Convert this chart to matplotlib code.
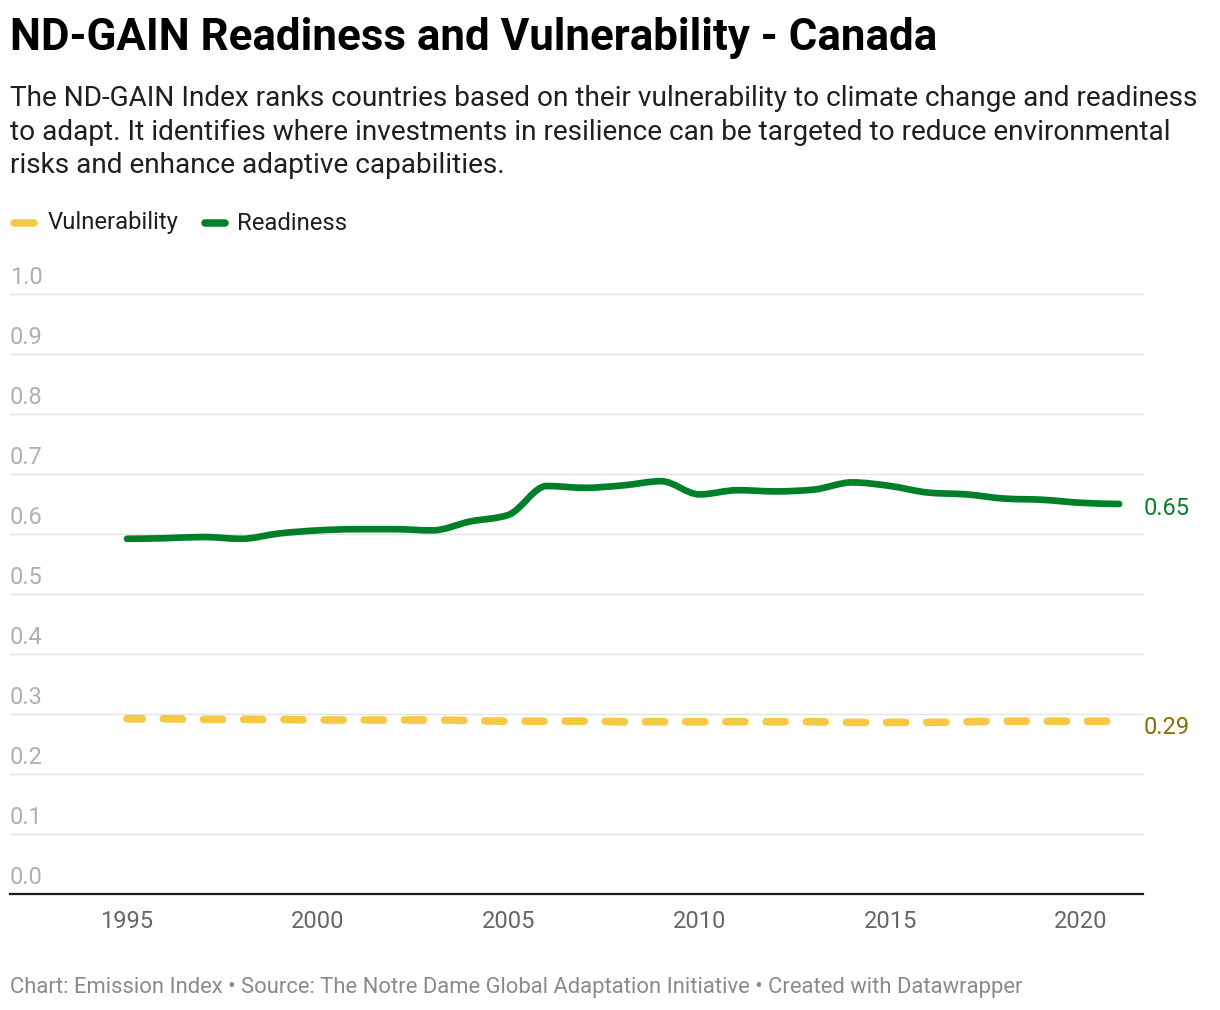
import numpy as np
import matplotlib
matplotlib.use("Agg")
import matplotlib.pyplot as plt
from matplotlib.path import Path
from matplotlib.patches import PathPatch
from matplotlib.lines import Line2D
import matplotlib.transforms as mtransforms

# ---------------- data ----------------
years = list(range(1995, 2022))
readiness = [0.592, 0.593, 0.595, 0.592, 0.601, 0.606, 0.608, 0.608, 0.606, 0.621,
             0.632, 0.680, 0.677, 0.681, 0.688, 0.666, 0.673, 0.671, 0.674, 0.686,
             0.680, 0.669, 0.666, 0.659, 0.657, 0.652, 0.650]
vulnerability = [0.292, 0.292, 0.291, 0.291, 0.291, 0.290, 0.290, 0.290, 0.290, 0.289,
                 0.288, 0.288, 0.288, 0.287, 0.287, 0.287, 0.287, 0.287, 0.287, 0.286,
                 0.286, 0.286, 0.287, 0.288, 0.288, 0.288, 0.288]
y_ticks = [0.0, 0.1, 0.2, 0.3, 0.4, 0.5, 0.6, 0.7, 0.8, 0.9, 1.0]
x_ticks = [1995, 2000, 2005, 2010, 2015, 2020]
series_names = ["Vulnerability", "Readiness"]
end_labels = ["0.29", "0.65"]

title = "ND-GAIN Readiness and Vulnerability - Canada"
subtitle = ("The ND-GAIN Index ranks countries based on their vulnerability to climate change and readiness\n"
            "to adapt. It identifies where investments in resilience can be targeted to reduce environmental\n"
            "risks and enhance adaptive capabilities.")
footer = "Chart: Emission Index \u2022 Source: The Notre Dame Global Adaptation Initiative \u2022 Created with Datawrapper"

GREEN = "#007f2a"
YELLOW = "#f7c843"
GREEN_TXT = "#0a7f2e"
GOLD_TXT = "#8c6d00"

plt.rcParams['font.family'] = ['Roboto', 'DejaVu Sans']

W, H = 1220, 1010
fig = plt.figure(figsize=(W / 100, H / 100), dpi=100)

# axes placement (pixels)
ax_left, ax_right, ax_top, ax_bottom = 10, 1143, 294, 894
ax = fig.add_axes([ax_left / W, 1 - ax_bottom / H, (ax_right - ax_left) / W, (ax_bottom - ax_top) / H])
px_per_year = 38.16
x0_px = 127
ax.set_xlim(1995 - (x0_px - ax_left) / px_per_year, 1995 + (ax_right - x0_px) / px_per_year)
ax.set_ylim(0, 1.0)
for s in ax.spines.values():
    s.set_visible(False)
ax.set_xticks([])
ax.set_yticks([])

# gridlines
for v in y_ticks[1:]:
    ax.axhline(v, color="#e3e3e3", lw=1.0, zorder=1, clip_on=False)
ax.axhline(0, color="#1a1a1a", lw=1.6, zorder=3, clip_on=False)

# y tick labels above gridlines
blend = mtransforms.blended_transform_factory(ax.transAxes, ax.transData)
for v in y_ticks:
    ax.text(0, v + 0.008, f"{v:.1f}", transform=blend, ha="left", va="bottom",
            fontsize=17, color="#b0b0b0")

# x tick labels
for xv in x_ticks:
    ax.text(xv, -0.027, str(xv), ha="center", va="top", fontsize=17, color="#666666",
            transform=ax.transData, clip_on=False)


def monotone_path(xs, ys):
    xs = np.asarray(xs, float)
    ys = np.asarray(ys, float)
    n = len(xs)
    h = np.diff(xs)
    s = np.diff(ys) / h
    t = np.zeros(n)
    for i in range(1, n - 1):
        p = (s[i - 1] * h[i] + s[i] * h[i - 1]) / (h[i - 1] + h[i])
        t[i] = (np.sign(s[i - 1]) + np.sign(s[i])) * min(abs(s[i - 1]), abs(s[i]), 0.5 * abs(p))
    t[0] = (3 * s[0] - t[1]) / 2
    t[-1] = (3 * s[-1] - t[-2]) / 2
    verts = [(xs[0], ys[0])]
    codes = [Path.MOVETO]
    for i in range(n - 1):
        d = h[i] / 3
        verts += [(xs[i] + d, ys[i] + d * t[i]), (xs[i + 1] - d, ys[i + 1] - d * t[i + 1]), (xs[i + 1], ys[i + 1])]
        codes += [Path.CURVE4] * 3
    return Path(verts, codes)


# vulnerability (dashed)
vp = PathPatch(monotone_path(years, vulnerability), fill=False, edgecolor=YELLOW, lw=5.5,
               linestyle=(0.5, (2.5, 2.76)), capstyle="round", joinstyle="round", zorder=4)
ax.add_patch(vp)
# readiness (solid)
rp = PathPatch(monotone_path(years, readiness), fill=False, edgecolor=GREEN, lw=4.8,
               capstyle="round", joinstyle="round", zorder=5)
ax.add_patch(rp)

# end labels
ax.text(years[-1] + 0.65, vulnerability[-1] - 0.010, end_labels[0], ha="left", va="center",
        fontsize=17, color=GOLD_TXT, clip_on=False)
ax.text(years[-1] + 0.65, readiness[-1] - 0.008, end_labels[1], ha="left", va="center",
        fontsize=17, color=GREEN_TXT, clip_on=False)

# title / subtitle / footer
fig.text(10 / W, 1 - 38 / H, title, ha="left", va="center", fontsize=31.6, fontweight="bold", color="#000000")
fig.text(10 / W, 1 - 85 / H, subtitle, ha="left", va="top", fontsize=20.2, color="#1f1f1f", linespacing=1.31)
fig.text(10 / W, 1 - 988 / H, footer, ha="left", va="center", fontsize=15.8, color="#8a8a8a")

# legend
legend_y = 1 - 223 / H
fig.add_artist(Line2D([14 / W, 34 / W], [legend_y, legend_y], color=YELLOW, lw=5.4, solid_capstyle="round",
                      transform=fig.transFigure))
fig.text(48 / W, legend_y, series_names[0], ha="left", va="center", fontsize=17.2, color="#1f1f1f")
fig.add_artist(Line2D([205 / W, 225 / W], [legend_y, legend_y], color=GREEN, lw=5.4, solid_capstyle="round",
                      transform=fig.transFigure))
fig.text(237 / W, legend_y, series_names[1], ha="left", va="center", fontsize=17.2, color="#1f1f1f")

fig.savefig("out.png", dpi=100, facecolor="white")
